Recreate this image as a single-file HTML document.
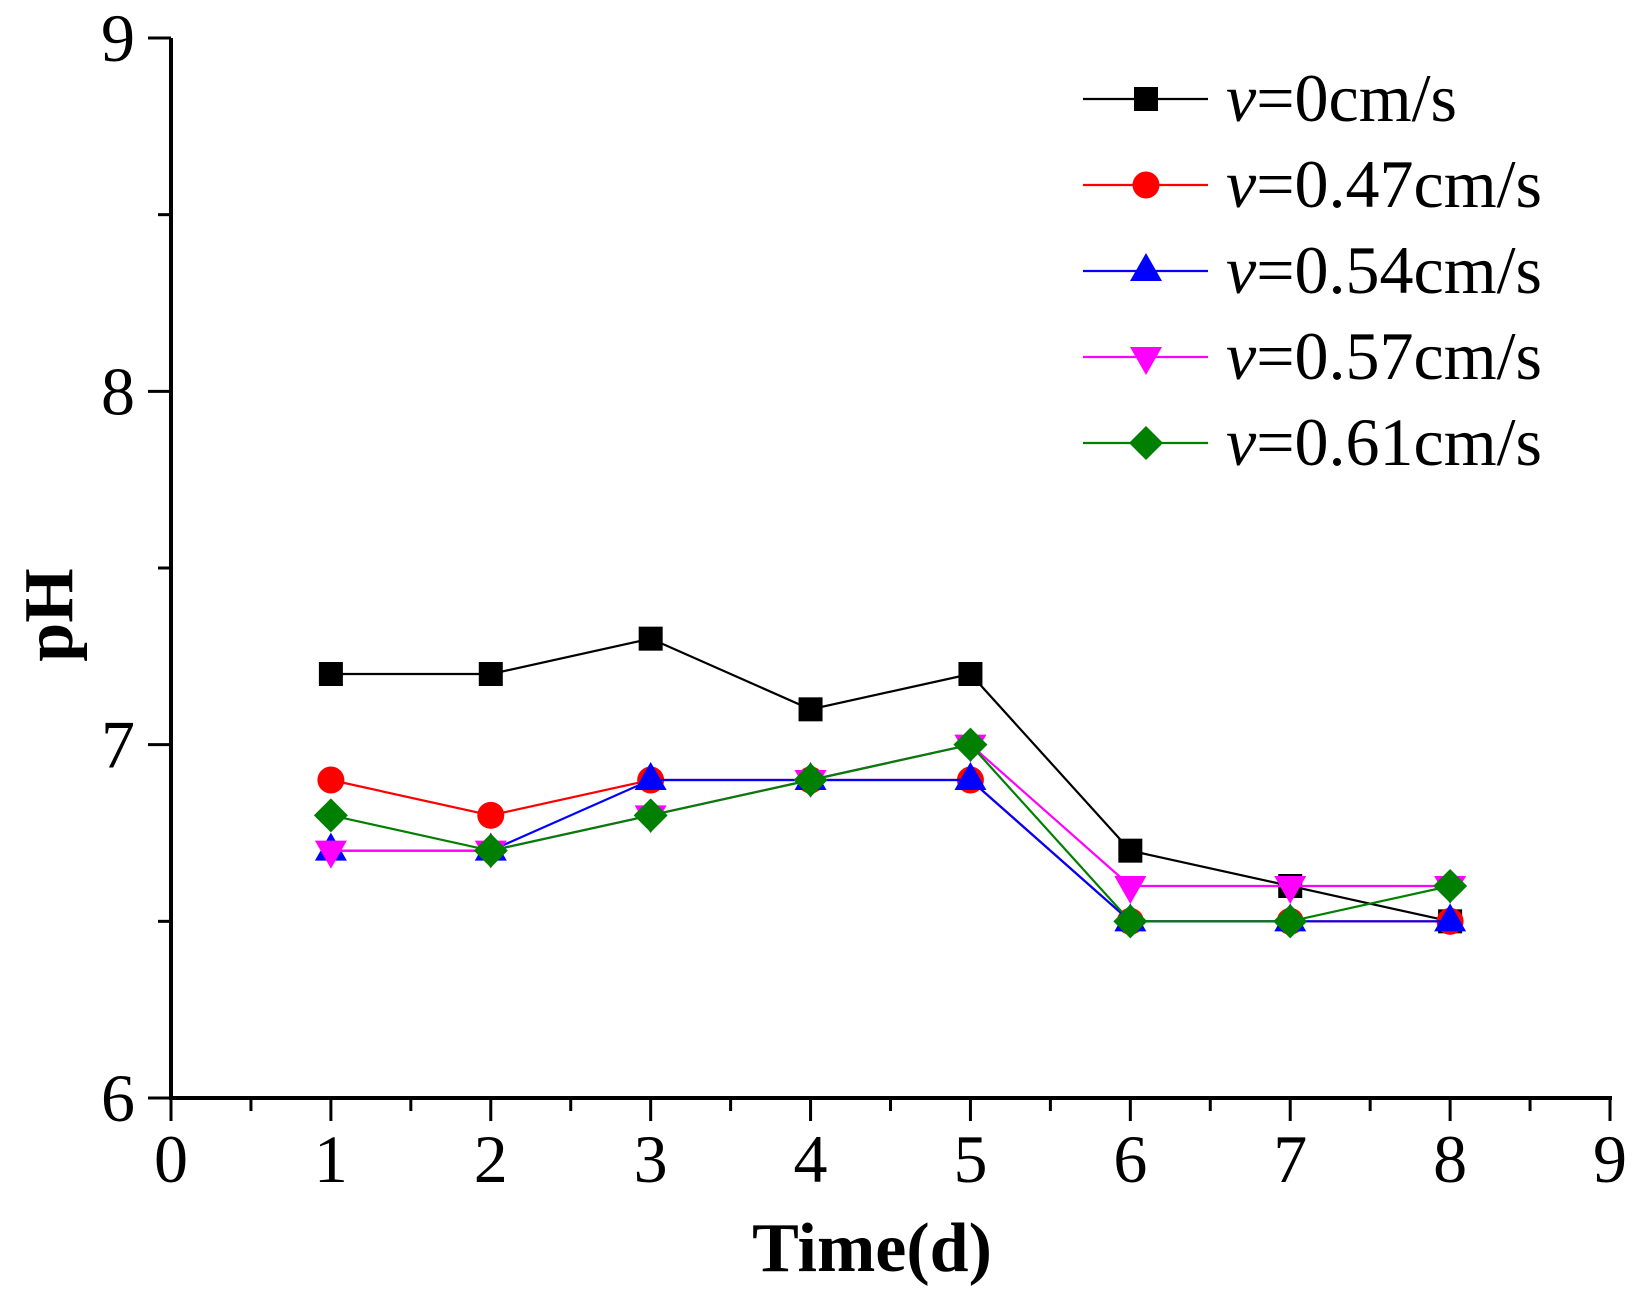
<!DOCTYPE html>
<html><head><meta charset="utf-8"><style>
html,body{margin:0;padding:0;background:#fff;}
svg{display:block;font-family:"Liberation Serif",serif;}
</style></head><body>
<svg id="chart" width="1639" height="1302" viewBox="0 0 1639 1302">
<g id="axes"></g>
<g id="series"></g>
<g id="legend"></g>
<text x="872" y="1271" text-anchor="middle" font-size="70" font-weight="bold">Time(d)</text>
<text transform="translate(72,615) rotate(-90)" text-anchor="middle" font-size="70" font-weight="bold">pH</text>
</svg>
<script>
const days = [1,2,3,4,5,6,7,8];
const xTicks = [0,1,2,3,4,5,6,7,8,9];
const yTicks = [6,7,8,9];
const seriesNames = ["0","0.47","0.54","0.57","0.61"];
const s0 = [7.2,7.2,7.3,7.1,7.2,6.7,6.6,6.5];
const s47 = [6.9,6.8,6.9,6.9,6.9,6.5,6.5,6.5];
const s54 = [6.7,6.7,6.9,6.9,6.9,6.5,6.5,6.5];
const s57 = [6.7,6.7,6.8,6.9,7.0,6.6,6.6,6.6];
const s61 = [6.8,6.7,6.8,6.9,7.0,6.5,6.5,6.6];

const NS="http://www.w3.org/2000/svg";
const X0=171,X1=1610,Y0=1098,Y1=38;
function sx(v){return X0+(v-0)/(9-0)*(X1-X0);}
function sy(v){return Y0-(v-6)/(9-6)*(Y0-Y1);}
function mk(tag,attrs,parent){const e=document.createElementNS(NS,tag);for(const k in attrs)e.setAttribute(k,attrs[k]);parent.appendChild(e);return e;}
const axes=document.getElementById('axes');
let e;
e=mk('line',{x1:X0,y1:Y0,x2:X0,y2:Y1,stroke:'#000','stroke-width':4},axes);


e=mk('line',{x1:X0-2,y1:Y0,x2:X1+2,y2:Y0,stroke:'#000','stroke-width':4},axes);


xTicks.forEach(t=>{
  e=mk('line',{x1:sx(t),y1:Y0,x2:sx(t),y2:Y0+23,stroke:'#000','stroke-width':3},axes);
  
  
  e=mk('text',{x:sx(t),y:Y0+84,'text-anchor':'middle','font-size':68},axes);
  e.textContent=t;
  
  
  if(t<9){
    e=mk('line',{x1:sx(t+0.5),y1:Y0,x2:sx(t+0.5),y2:Y0+13,stroke:'#000','stroke-width':3},axes);
    
    
  }
});
yTicks.forEach(t=>{
  e=mk('line',{x1:X0-23,y1:sy(t),x2:X0,y2:sy(t),stroke:'#000','stroke-width':3},axes);
  
  
  e=mk('text',{x:135,y:sy(t)+23,'text-anchor':'end','font-size':68},axes);
  e.textContent=t;
  
  
  if(t<9){
    e=mk('line',{x1:X0-13,y1:sy(t+0.5),x2:X0,y2:sy(t+0.5),stroke:'#000','stroke-width':3},axes);
    
    
  }
});
const colors=['#000000','#ff0000','#0000ff','#ff00ff','#008000'];
const shapes=['square','circle','up','down','diamond'];
function marker(shape,cx,cy,color,parent){
  let m;
  if(shape==='square') m=mk('rect',{x:cx-12,y:cy-12,width:24,height:24,fill:color},parent);
  else if(shape==='circle') m=mk('circle',{cx:cx,cy:cy,r:13.5,fill:color},parent);
  else if(shape==='up') m=mk('polygon',{points:`${cx},${cy-18} ${cx+16},${cy+10} ${cx-16},${cy+10}`,fill:color},parent);
  else if(shape==='down') m=mk('polygon',{points:`${cx},${cy+18} ${cx+16},${cy-10} ${cx-16},${cy-10}`,fill:color},parent);
  else m=mk('polygon',{points:`${cx},${cy-17} ${cx+17},${cy} ${cx},${cy+17} ${cx-17},${cy}`,fill:color},parent);
  return m;
}
const data=[s0,s47,s54,s57,s61];
const sg=document.getElementById('series');
data.forEach((arr,i)=>{
  const g=mk('g',{},sg);
  
  
  const pl=mk('polyline',{points:arr.map((v,j)=>sx(days[j])+','+sy(v)).join(' '),fill:'none',stroke:colors[i],'stroke-width':2.2},g);
  
  
  arr.forEach((v,j)=>{
    const m=marker(shapes[i],sx(days[j]),sy(v),colors[i],g);
    
    
  });
});
const lg=document.getElementById('legend');
seriesNames.forEach((n,i)=>{
  const y=99+i*86;
  const g=mk('g',{},lg);
  
  
  mk('line',{x1:1083,y1:y,x2:1208,y2:y,stroke:colors[i],'stroke-width':2.2},g);
  marker(shapes[i],1146,y,colors[i],g);
  const t=mk('text',{x:1226,y:y+22,'font-size':68},g);
  const ts=mk('tspan',{'font-style':'italic'},t);ts.textContent='v';
  const ts2=mk('tspan',{},t);ts2.textContent='='+n+'cm/s';
});
</script>
</body></html>
